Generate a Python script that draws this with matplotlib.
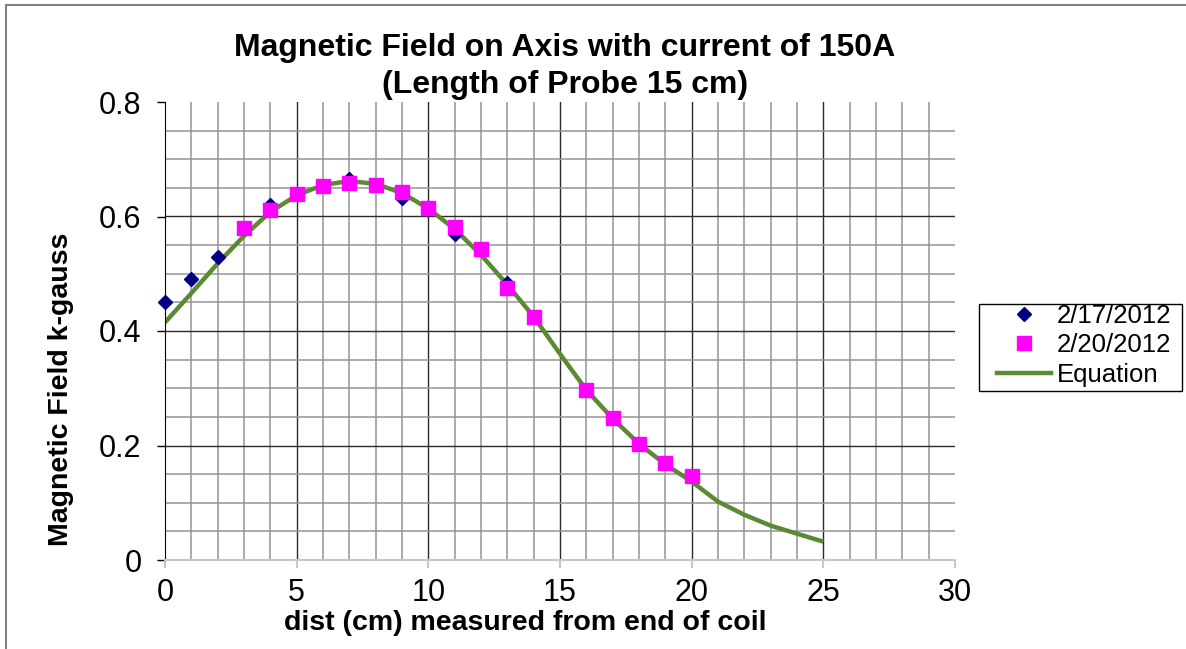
import numpy as np
import matplotlib.pyplot as plt
from matplotlib.lines import Line2D

plt.rcParams['font.family'] = ['Liberation Sans', 'DejaVu Sans']

# measured on 2/17/2012 (visible points)
x_feb17 = [0, 1, 2, 4, 7, 9, 11, 13]
b_feb17 = [0.45, 0.49, 0.53, 0.62, 0.665, 0.632, 0.57, 0.483]

# measured on 2/20/2012
x_feb20 = [3, 4, 5, 6, 7, 8, 9, 10, 11, 12, 13, 14, 16, 17, 18, 19, 20]
b_feb20 = [0.580, 0.612, 0.640, 0.654, 0.659, 0.655, 0.642, 0.614, 0.582,
           0.544, 0.475, 0.424, 0.297, 0.248, 0.203, 0.170, 0.146]

# calculated field from the equation
x_eq = list(range(0, 26))
b_eq = [0.415, 0.466, 0.518, 0.566, 0.608, 0.637, 0.655, 0.662, 0.657, 0.641,
        0.614, 0.578, 0.533, 0.481, 0.425, 0.360, 0.297, 0.247, 0.203, 0.167,
        0.137, 0.102, 0.079, 0.060, 0.046, 0.032]

x_ticks = [0, 5, 10, 15, 20, 25, 30]
y_ticks = [0, 0.2, 0.4, 0.6, 0.8]

W, H = 1186, 649
fig = plt.figure(figsize=(W / 100, H / 100), dpi=100)
ax = fig.add_axes([165 / W, 1 - 560 / H, 790 / W, 458 / H])

ax.set_xlim(0, 30)
ax.set_ylim(0, 0.8)

# grid: minor every 1 cm / 0.05, major every 5 cm / 0.2
for xv in np.arange(1, 30):
    major = xv % 5 == 0
    ax.axvline(xv, color='#2a2a2a' if major else '#959595',
               lw=1.0 if major else 1.1, zorder=1)
for yv in np.arange(1, 16) * 0.05:
    major = round(yv / 0.05) % 4 == 0
    ax.axhline(yv, color='#2a2a2a' if major else '#959595',
               lw=1.0 if major else 1.1, zorder=1)

ax.plot(x_eq, b_eq, color='#5b8a33', lw=3.2, solid_capstyle='butt', zorder=2,
        label='Equation')
ax.plot(x_feb17, b_feb17, 'D', color='#000080', markersize=7.5, ls='none',
        zorder=3, label='2/17/2012', clip_on=False)
ax.plot(x_feb20, b_feb20, 's', color='#ff00ff', markersize=10.5, ls='none',
        zorder=4, label='2/20/2012')

ax.spines['top'].set_visible(False)
ax.spines['right'].set_visible(False)
ax.spines['left'].set_color('black')
ax.spines['bottom'].set_color('#c8c8c8')
ax.spines['bottom'].set_linewidth(1.5)

ax.set_xticks(x_ticks)
ax.set_xticklabels([str(v) for v in x_ticks])
ax.set_yticks(y_ticks)
ax.set_yticklabels(['0', '0.2', '0.4', '0.6', '0.8'])
ax.tick_params(axis='x', direction='out', length=6, color='#c8c8c8', width=1.5,
               labelsize=22, pad=7)
ax.tick_params(axis='y', direction='out', length=6, color='black', width=1,
               labelsize=22, pad=11)

ax.set_xlabel('dist (cm) measured from end of coil', fontsize=20.5,
              fontweight='bold')
ax.xaxis.set_label_coords((525 - 165) / 790, (560 - 623) / 458)
ax.xaxis.label.set_va('center')
ax.set_ylabel('Magnetic Field k-gauss', fontsize=20.5, fontweight='bold')
ax.yaxis.set_label_coords((61 - 165) / 790, (560 - 389) / 458)
ax.yaxis.label.set_va('center')

fig.text(565 / W, 1 - 48 / H, 'Magnetic Field on Axis with current of 150A',
         ha='center', va='center', fontsize=23, fontweight='bold')
fig.text(565 / W, 1 - 85 / H, '(Length of Probe 15 cm)',
         ha='center', va='center', fontsize=23, fontweight='bold')

# legend entries without frame; the box is drawn separately
handles = [
    Line2D([], [], marker='D', color='#000080', ls='none', markersize=7.5),
    Line2D([], [], marker='s', color='#ff00ff', ls='none', markersize=10.5),
    Line2D([], [], color='#5b8a33', lw=3.2),
]
fig.legend(handles, ['2/17/2012', '2/20/2012', 'Equation'],
           loc='upper left', bbox_to_anchor=(996 / W, 1 - 303 / H),
           fontsize=18.5, frameon=False, borderpad=0.05,
           handlelength=2.1, handletextpad=0.2, labelspacing=0.2,
           borderaxespad=0)
fig.add_artist(plt.Rectangle((979 / W, 1 - 391 / H), 203 / W, 87 / H,
                             transform=fig.transFigure, fill=False,
                             edgecolor='black', lw=1.0))

# outer chart frame (left and top edges)
fig.add_artist(plt.Rectangle((6 / W, -0.05), 1.0, 1 - 5 / H + 0.05,
                             transform=fig.transFigure, fill=False,
                             edgecolor='#808080', lw=1.5))

fig.savefig('out.png', dpi=100)
